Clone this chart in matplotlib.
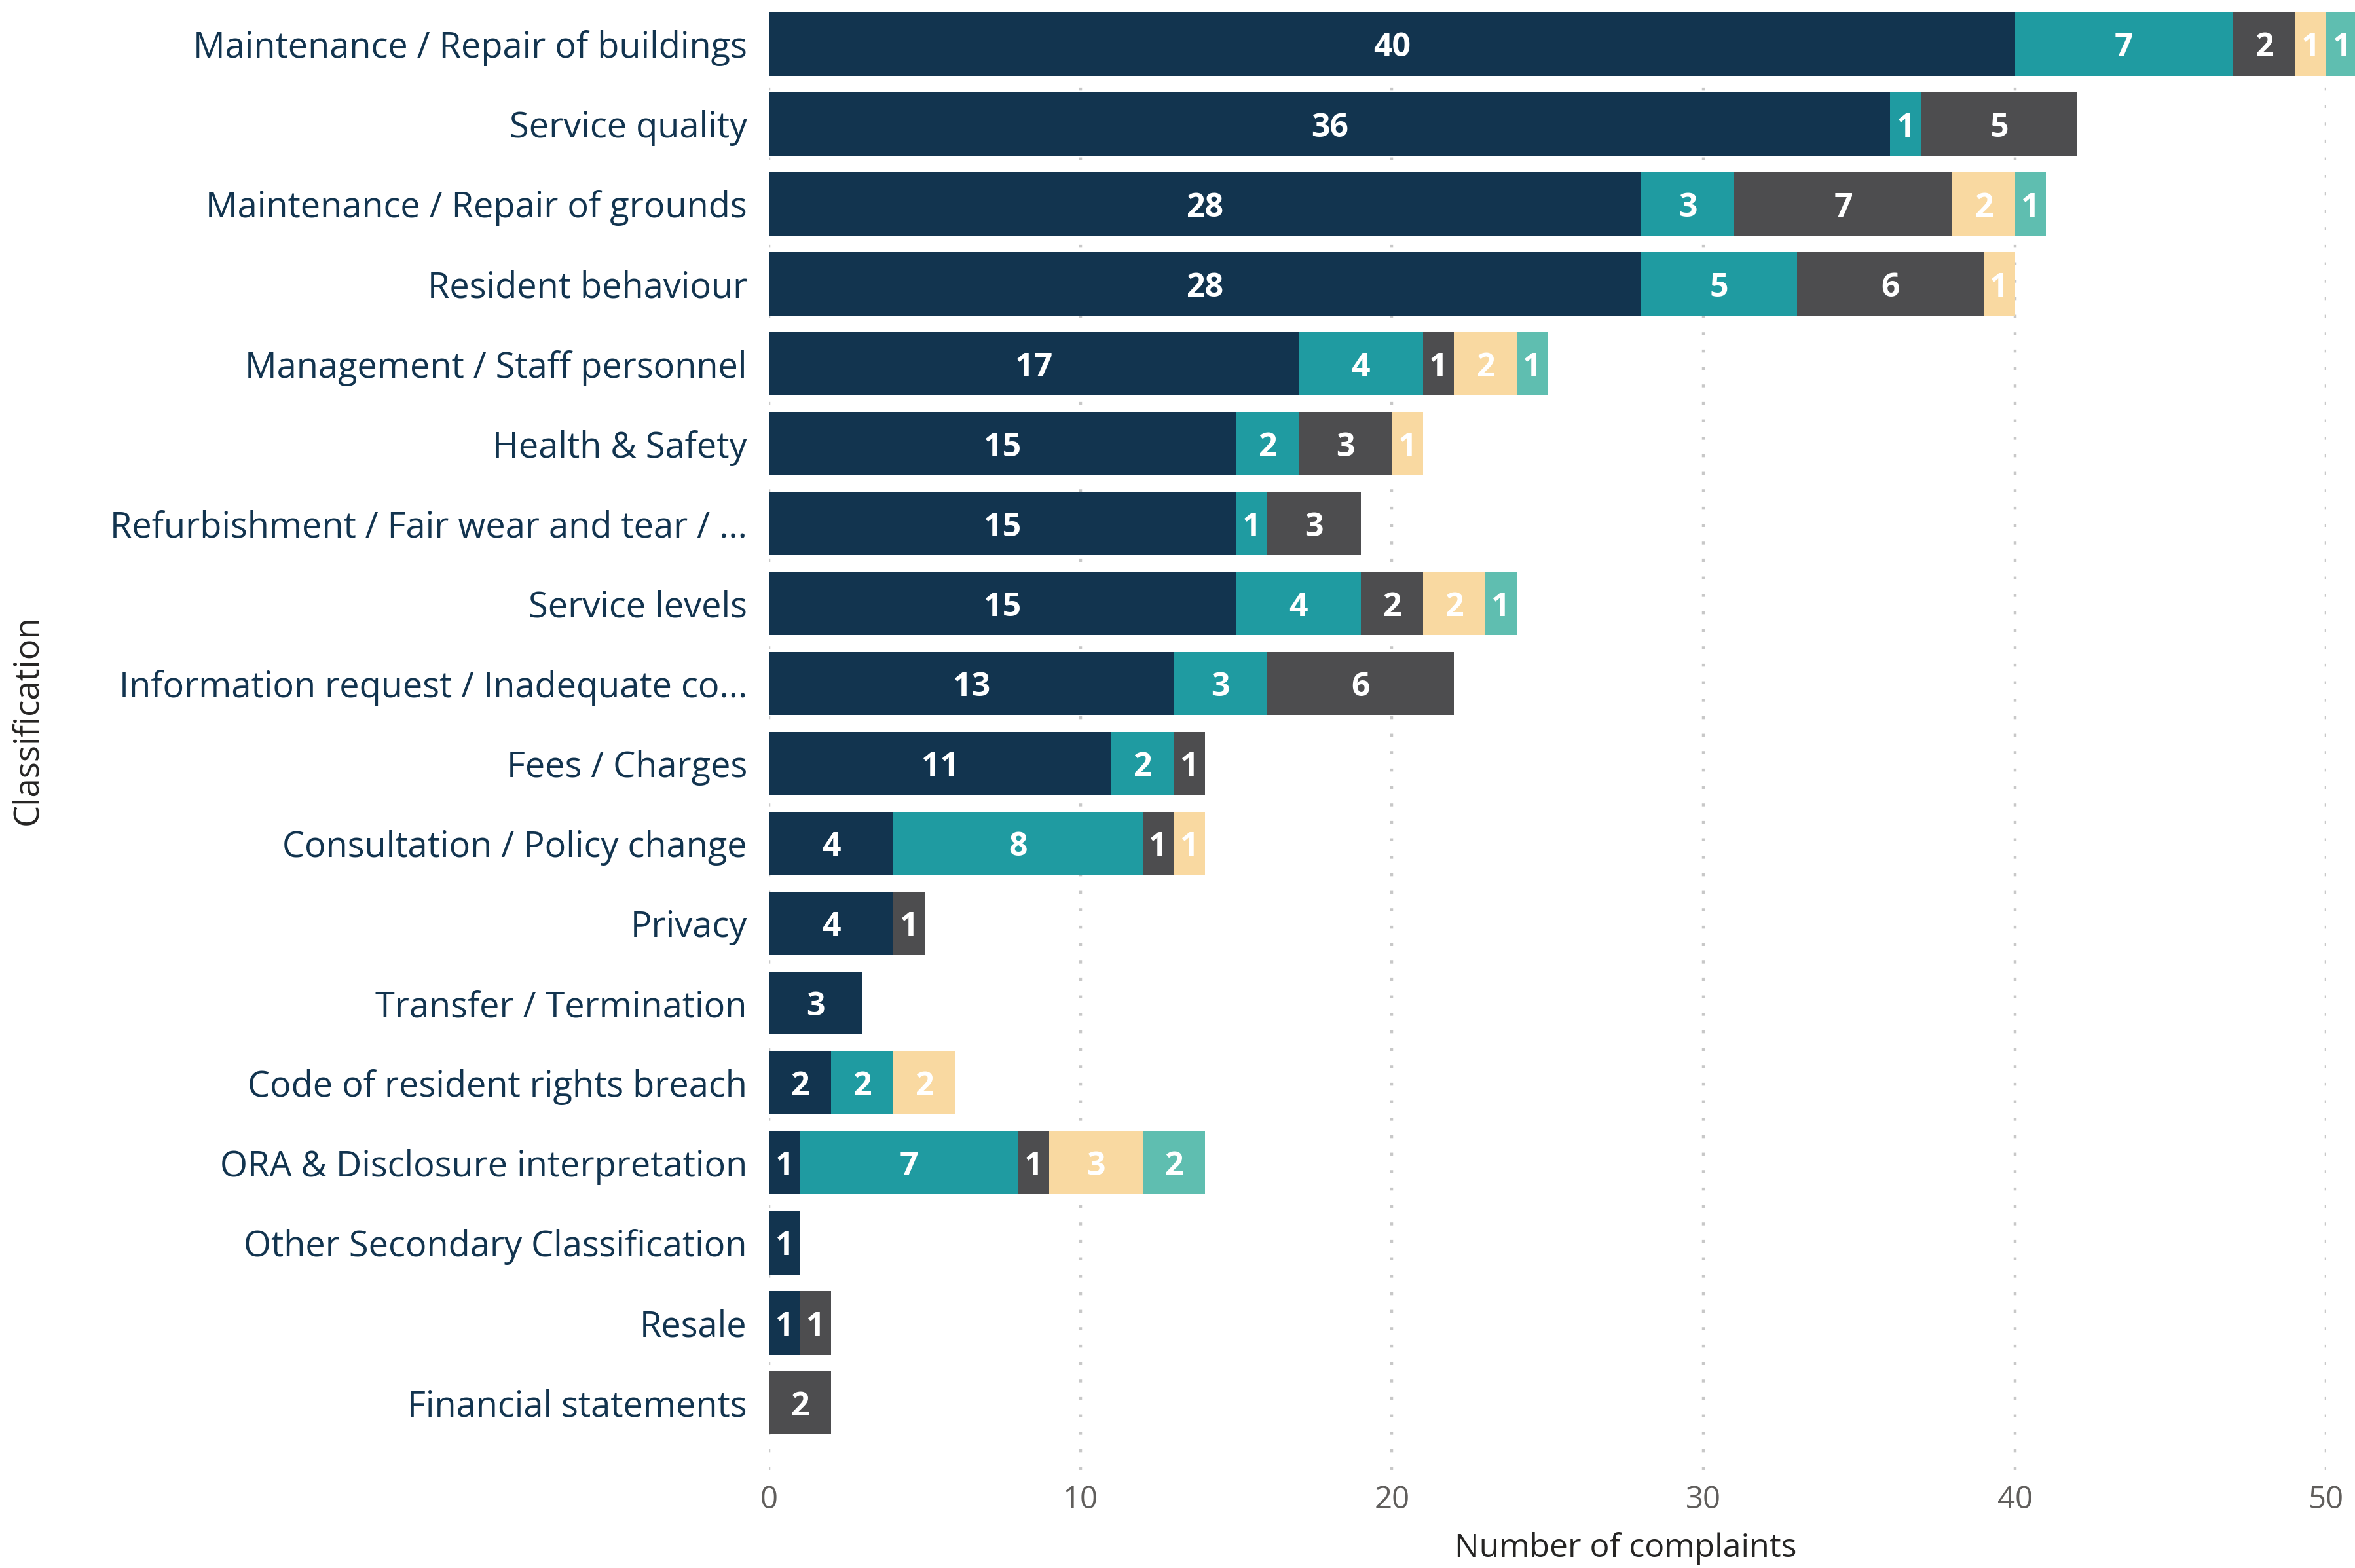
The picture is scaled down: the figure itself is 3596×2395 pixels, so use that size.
import numpy as np
import matplotlib
matplotlib.use("Agg")
import matplotlib.pyplot as plt

categories = [
    "Maintenance / Repair of buildings",
    "Service quality",
    "Maintenance / Repair of grounds",
    "Resident behaviour",
    "Management / Staff personnel",
    "Health & Safety",
    "Refurbishment / Fair wear and tear / ...",
    "Service levels",
    "Information request / Inadequate co...",
    "Fees / Charges",
    "Consultation / Policy change",
    "Privacy",
    "Transfer / Termination",
    "Code of resident rights breach",
    "ORA & Disclosure interpretation",
    "Other Secondary Classification",
    "Resale",
    "Financial statements",
]

# five stacked series, left to right
series_1 = [40, 36, 28, 28, 17, 15, 15, 15, 13, 11, 4, 4, 3, 2, 1, 1, 1, 0]
series_2 = [7, 1, 3, 5, 4, 2, 1, 4, 3, 2, 8, 0, 0, 2, 7, 0, 0, 0]
series_3 = [2, 5, 7, 6, 1, 3, 3, 2, 6, 1, 1, 1, 0, 0, 1, 0, 1, 2]
series_4 = [1, 0, 2, 1, 2, 1, 0, 2, 0, 0, 1, 0, 0, 2, 3, 0, 0, 0]
series_5 = [1, 0, 1, 0, 1, 0, 0, 1, 0, 0, 0, 0, 0, 0, 2, 0, 0, 0]

colors = ["#12344F", "#1F9BA1", "#4D4D4F", "#F9D9A1", "#5FBEB0"]

fig = plt.figure(figsize=(17.98, 11.975), dpi=200)
ax_left, ax_w = 0.3265, 0.9878 - 0.3265
ax_bottom, ax_h = 1 - 2245 / 2395, (2245 - 10) / 2395
ax = fig.add_axes([ax_left, ax_bottom, ax_w, ax_h])

y = np.arange(len(categories))
left = np.zeros(len(categories))
for vals, col in zip([series_1, series_2, series_3, series_4, series_5], colors):
    vals = np.array(vals, dtype=float)
    bars = ax.barh(y, vals, left=left, height=0.79, color=col, zorder=2)
    for b in bars:
        b.set_clip_on(False)
    # value labels centred in each segment
    for yi, (l, v) in enumerate(zip(left, vals)):
        if v > 0:
            ax.text(l + v / 2, yi + 0.05, f"{int(v)}", ha="center", va="center",
                    color="white", fontsize=18, fontweight="bold",
                    family="Open Sans", zorder=3, clip_on=False)
    left += vals

ax.set_xlim(0, 50)
ax.set_ylim(17.84, -0.47)
ax.set_yticks(y)
ax.set_yticklabels(categories, fontsize=19.5, color="#12344F", family="Open Sans")
ax.set_xticks([0, 10, 20, 30, 40, 50])
ax.tick_params(axis="x", labelsize=17, colors="#605E5C", length=0, pad=8)
ax.tick_params(axis="y", length=0, pad=12)
for lab in ax.get_xticklabels():
    lab.set_family("Open Sans")

ax.grid(axis="x", color="#C8C8C8", linestyle=(0, (1, 5)), linewidth=1.6, zorder=0)
for s in ax.spines.values():
    s.set_visible(False)

ax.set_xlabel("Number of complaints", fontsize=18, color="#252423", family="Open Sans")
ax.xaxis.set_label_coords(0.55, (2245 - 2390) / 2235)
ax.xaxis.label.set_va("bottom")
ax.set_ylabel("Classification", fontsize=19, color="#252423", family="Open Sans")
ax.yaxis.set_label_coords((70 / 3596 - ax_left) / ax_w, 1 - (1100 - 10) / 2235)

fig.savefig("out.png", dpi=200)
